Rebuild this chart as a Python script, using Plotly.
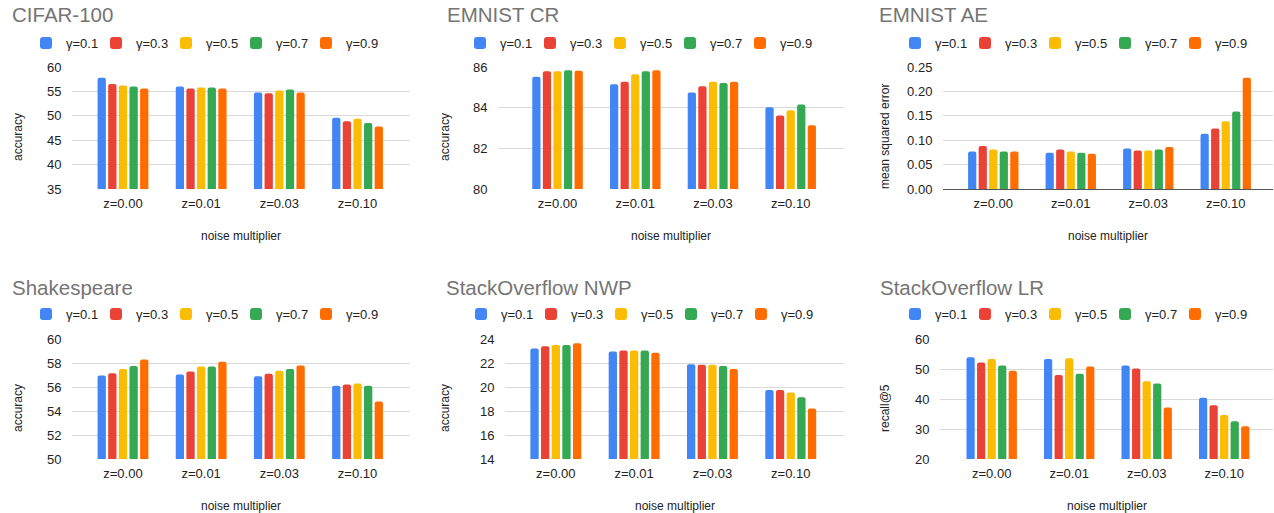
import plotly.graph_objects as go

categories = ["z=0.00", "z=0.01", "z=0.03", "z=0.10"]
series_names = ["γ=0.1", "γ=0.3", "γ=0.5", "γ=0.7", "γ=0.9"]
colors = ["#4285F4", "#EA4335", "#FBBC04", "#34A853", "#FF6D01"]

cifar100 = [
    [57.8, 56.0, 54.8, 49.6],
    [56.5, 55.6, 54.6, 48.9],
    [56.2, 55.8, 55.2, 49.4],
    [56.0, 55.8, 55.4, 48.5],
    [55.6, 55.6, 54.8, 47.8],
]
emnist_cr = [
    [85.52, 85.15, 84.75, 84.02],
    [85.79, 85.28, 85.05, 83.61],
    [85.79, 85.64, 85.28, 83.87],
    [85.84, 85.79, 85.21, 84.16],
    [85.82, 85.84, 85.28, 83.13],
]
emnist_ae = [
    [0.077, 0.0745, 0.083, 0.113],
    [0.088, 0.081, 0.079, 0.124],
    [0.081, 0.077, 0.079, 0.139],
    [0.077, 0.0745, 0.081, 0.159],
    [0.077, 0.072, 0.086, 0.228],
]
shakespeare = [
    [56.95, 57.05, 56.9, 56.1],
    [57.15, 57.3, 57.1, 56.2],
    [57.5, 57.7, 57.35, 56.3],
    [57.75, 57.7, 57.5, 56.1],
    [58.3, 58.1, 57.8, 54.8],
]
so_nwp = [
    [23.2, 22.95, 21.9, 19.75],
    [23.4, 23.05, 21.85, 19.75],
    [23.5, 23.05, 21.85, 19.55],
    [23.5, 23.05, 21.75, 19.15],
    [23.65, 22.85, 21.5, 18.2],
]
so_lr = [
    [53.9, 53.3, 51.2, 40.4],
    [52.2, 48.0, 50.2, 37.9],
    [53.3, 53.6, 45.9, 34.7],
    [51.2, 48.4, 45.2, 32.6],
    [49.4, 50.8, 37.2, 30.9],
]

titles = ["CIFAR-100", "EMNIST CR", "EMNIST AE", "Shakespeare", "StackOverflow NWP", "StackOverflow LR"]
y_titles = ["accuracy", "accuracy", "mean squared error", "accuracy", "accuracy", "recall@5"]
datasets = [cifar100, emnist_cr, emnist_ae, shakespeare, so_nwp, so_lr]
y_ranges = [(35, 60), (80, 86), (0, 0.25), (50, 60), (14, 24), (20, 60)]
y_dticks = [5, 2, 0.05, 2, 2, 10]
y_formats = ["", "", ".2f", "", "", ""]

W, H = 1274, 513
# pixel geometry of each panel (plot box, title, legend, y-title) and category axis padding
panels = [
    dict(x0=72, x1=410, yt=67, yb=189, tx=10, ty=15, lx=43, ly=43, ytx=18, xr=(-0.652, 3.671)),
    dict(x0=498, x1=844, yt=67, yb=189, tx=445, ty=15, lx=477, ly=43, ytx=445, xr=(-0.766, 3.686)),
    dict(x0=943, x1=1273, yt=67, yb=189, tx=877, ty=15, lx=912, ly=43, ytx=885, xr=(-0.649, 3.61)),
    dict(x0=72, x1=410, yt=339, yb=459, tx=10, ty=287, lx=43, ly=314, ytx=18, xr=(-0.652, 3.671)),
    dict(x0=505, x1=844, yt=339, yb=459, tx=444, ty=287, lx=478, ly=314, ytx=445, xr=(-0.649, 3.68)),
    dict(x0=940, x1=1273, yt=339, yb=459, tx=878, ty=287, lx=912, ly=314, ytx=885, xr=(-0.667, 3.63)),
]

FONT = "Liberation Sans, Arial, sans-serif"
fig = go.Figure()
annotations = []
layout = dict(
    width=W, height=H, margin=dict(l=0, r=0, t=0, b=0, pad=0, autoexpand=False),
    paper_bgcolor="white", plot_bgcolor="white",
    barmode="group", bargap=0.32, bargroupgap=0.22,
    font=dict(family=FONT, size=12, color="#222222"),
    hovermode=False,
)

def px(x):
    return x / W

def py(y):
    return 1 - y / H

for i, (p, data) in enumerate(zip(panels, datasets)):
    k = i + 1
    xa = "x" if k == 1 else f"x{k}"
    ya = "y" if k == 1 else f"y{k}"
    for j, name in enumerate(series_names):
        n = i * 5 + j + 1
        lg = "legend" if n == 1 else f"legend{n}"
        fig.add_trace(go.Bar(
            x=categories, y=data[j], name=name, xaxis=xa, yaxis=ya,
            marker=dict(color=colors[j], cornerradius=2, line=dict(width=0)),
            legend=lg, showlegend=True,
        ))
        layout[lg] = dict(
            orientation="h", x=px(p["lx"] - 17 + j * 70), y=py(p["ly"]),
            xanchor="left", yanchor="middle",
            font=dict(size=13, color="#222222"), bgcolor="rgba(0,0,0,0)",
            itemwidth=30, itemclick=False, itemdoubleclick=False,
        )
    layout[f"xaxis{'' if k == 1 else k}"] = dict(
        domain=[px(p["x0"]), px(p["x1"])], anchor=ya, automargin=False,
        range=list(p["xr"]),
        showgrid=False, showline=False, zeroline=False,
        ticks="outside", ticklen=2, tickcolor="rgba(0,0,0,0)",
        tickfont=dict(size=13, color="#222222"),
    )
    r0, r1 = y_ranges[i]
    layout[f"yaxis{'' if k == 1 else k}"] = dict(
        domain=[py(p["yb"]), py(p["yt"])], anchor=xa, automargin=False,
        range=[r0, r1], dtick=y_dticks[i], tick0=r0, tickformat=y_formats[i],
        showgrid=True, gridcolor="#d9d9d9", gridwidth=1,
        zeroline=(r0 == 0), zerolinecolor="#555555", zerolinewidth=1,
        showline=False, ticks="outside", ticklen=7, tickcolor="rgba(0,0,0,0)",
        tickfont=dict(size=13, color="#222222"),
    )
    annotations.append(dict(
        text=titles[i], x=px(p["tx"]), y=py(p["ty"]), xref="paper", yref="paper",
        xanchor="left", yanchor="middle", showarrow=False,
        font=dict(size=20.5, color="#757575", family=FONT),
    ))
    annotations.append(dict(
        text="noise multiplier", x=px((p["x0"] + p["x1"]) / 2), y=py(p["yb"] + 47),
        xref="paper", yref="paper", xanchor="center", yanchor="middle", showarrow=False,
        font=dict(size=12, color="#222222", family=FONT),
    ))
    annotations.append(dict(
        text=y_titles[i], x=px(p["ytx"]), y=py((p["yt"] + p["yb"]) / 2 + 9),
        xref="paper", yref="paper", xanchor="center", yanchor="middle", showarrow=False,
        textangle=-90, font=dict(size=12, color="#222222", family=FONT),
    ))

layout["annotations"] = annotations
fig.update_layout(**layout)
fig.write_html("out.html", config={"displayModeBar": False},
               post_script="document.body.style.margin='0px';")
